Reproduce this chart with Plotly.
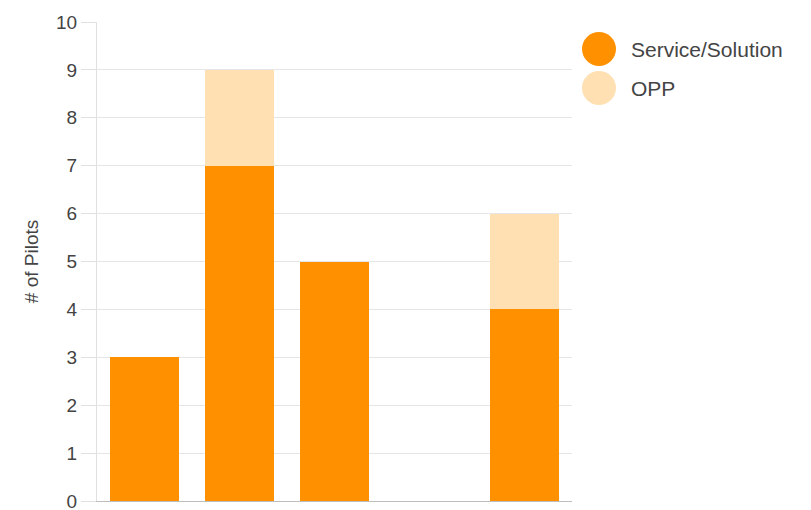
import plotly.graph_objects as go

categories = ["C1", "C2", "C3", "C4", "C5"]
service = [3, 7, 5, 0, 4]
opp = [0, 2, 0, 0, 2]
series_names = ["Service/Solution", "OPP"]
colors = ["#FF9100", "#FFE0B2"]

W, H = 811, 510
L, R, T, B = 97, 239, 22, 9
pw, ph = W - L - R, H - T - B
FONT = "Liberation Sans, Arial, sans-serif"
TXT = "#444444"

def px(x):
    return (x - L) / pw

def py(y):
    return (H - B - y) / ph

fig = go.Figure()
fig.add_trace(go.Bar(x=categories, y=service, name=series_names[0],
                     marker=dict(color=colors[0], line=dict(width=0)), showlegend=False))
fig.add_trace(go.Bar(x=categories, y=opp, name=series_names[1],
                     marker=dict(color=colors[1], line=dict(width=0)), showlegend=False))

shapes = []
annotations = []
for i, (name, c) in enumerate(zip(series_names, colors)):
    cy = 49 + i * 39
    cx = 599
    r = 17
    shapes.append(dict(type="circle", xref="paper", yref="paper",
                       x0=px(cx - r), x1=px(cx + r), y0=py(cy + r), y1=py(cy - r),
                       fillcolor=c, line=dict(width=0)))
    annotations.append(dict(xref="paper", yref="paper", x=px(629), y=py(cy),
                            xanchor="left", yanchor="middle", showarrow=False,
                            text=name, font=dict(size=21, color=TXT, family=FONT)))

fig.update_layout(
    width=W, height=H, barmode="stack", bargap=0.28,
    margin=dict(l=L, r=R, t=T, b=B, autoexpand=False),
    plot_bgcolor="white", paper_bgcolor="white",
    font=dict(family=FONT, size=19, color=TXT),
    shapes=shapes, annotations=annotations,
    xaxis=dict(showticklabels=False, showgrid=False, showline=True,
               linecolor="#bdbdbd", linewidth=1, ticks="", automargin=False),
    yaxis=dict(range=[0, 10], dtick=1, showgrid=True, gridcolor="#e6e6e6",
               showline=True, linecolor="#e0e0e0", ticks="outside", ticklen=15,
               tickcolor="#e0e0e0", zeroline=False, ticklabeloverflow="allow",
               automargin=False,
               title=dict(text="# of Pilots", font=dict(size=19, color=TXT, family=FONT), standoff=12),
               tickfont=dict(size=19, color=TXT, family=FONT)),
)

fig.write_html("out.html")
